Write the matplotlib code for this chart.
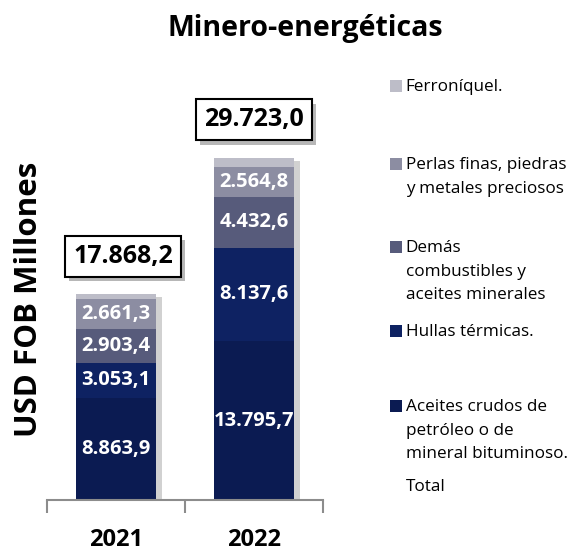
import matplotlib
matplotlib.use("Agg")
import matplotlib.pyplot as plt
import matplotlib.patheffects as pe
from matplotlib.patches import Rectangle
import numpy as np

years = ["2021", "2022"]
series = [
    "Aceites crudos de\npetróleo o de\nmineral bituminoso.",
    "Hullas térmicas.",
    "Demás\ncombustibles y\naceites minerales",
    "Perlas finas, piedras\ny metales preciosos",
    "Ferroníquel.",
]
values = [
    [8863.9, 13795.7],
    [3053.1, 8137.6],
    [2903.4, 4432.6],
    [2661.3, 2564.8],
    [386.5, 792.3],
]
totals = [17868.2, 29723.0]
colors = ["#0b1b52", "#0e2262", "#575b7b", "#8c8da2", "#bdbdc8"]

plt.rcParams["font.family"] = ["Open Sans", "DejaVu Sans"]


def fmt(v):
    s = f"{v:,.1f}"
    return s.replace(",", "X").replace(".", ",").replace("X", ".")


fig = plt.figure(figsize=(5.73, 5.52), dpi=100)
ax = fig.add_axes([0.082, 0.094, 0.482, 0.73])

x = np.arange(len(years))
# shadow behind the full stack
sh = ax.bar(x, totals, 0.58, color="white", linewidth=0, zorder=1)
for b in sh:
    b.set_path_effects([pe.SimplePatchShadow(offset=(4, -2), shadow_rgbFace="#999999", alpha=0.45)])

bottom = np.zeros(len(years))
for i, vals in enumerate(values):
    ax.bar(x, vals, 0.58, bottom=bottom, color=colors[i], linewidth=0, zorder=2)
    if i < 4:
        for xi, v, b0 in zip(x, vals, bottom):
            ax.text(xi, b0 + v / 2, fmt(v), ha="center", va="center", color="white",
                    fontsize=14.5, fontweight="bold", zorder=3)
    bottom += np.array(vals)

box_dx = [0.05, 0.0]
for xi, t, dx in zip(x, totals, box_dx):
    txt = ax.text(xi + dx, t + 3300, fmt(t), ha="center", va="center", fontsize=18,
                  fontweight="bold", zorder=4,
                  bbox=dict(boxstyle="square,pad=0.32", fc="white", ec="black", lw=1.5))
    txt.get_bbox_patch().set_path_effects(
        [pe.SimplePatchShadow(offset=(3, -3), shadow_rgbFace="#888888", alpha=0.6), pe.Normal()])

ax.set_xlim(-0.5, 1.5)
ax.set_ylim(0, 35000)
for s in ["top", "right", "left"]:
    ax.spines[s].set_visible(False)
ax.spines["bottom"].set_color("#8c8c8c")
ax.spines["bottom"].set_linewidth(1.5)
ax.set_yticks([])
ax.set_xticks([-0.5, 0.5, 1.5])
ax.set_xticklabels([])
ax.tick_params(axis="x", length=9, width=1.5, color="#8c8c8c", direction="out")
for xi, y in zip(x, years):
    ax.text(xi, -0.1, y, transform=ax.get_xaxis_transform(), ha="center", va="center",
            fontsize=17, fontweight="bold")

fig.text(0.05, 0.457, "USD FOB Millones", rotation=90, ha="center", va="center",
         fontsize=22.5, fontweight="bold")
fig.text(0.532, 0.948, "Minero-energéticas", ha="center", va="center",
         fontsize=20.5, fontweight="bold")

# legend drawn by hand (irregular spacing in the original)
leg_y = [0.844, 0.703, 0.5525, 0.400, 0.2645]
for lbl, c, yy in zip(series[::-1], colors[::-1], leg_y):
    fig.patches.append(Rectangle((0.681, yy - 0.011), 0.021, 0.022, transform=fig.transFigure,
                                 fc=c, ec="none"))
    fig.text(0.708, yy + 0.013, lbl, ha="left", va="top", fontsize=12.3,
             linespacing=1.65)
fig.text(0.708, 0.118, "Total", ha="left", va="center", fontsize=12.3)

fig.savefig("out.png", dpi=100)
